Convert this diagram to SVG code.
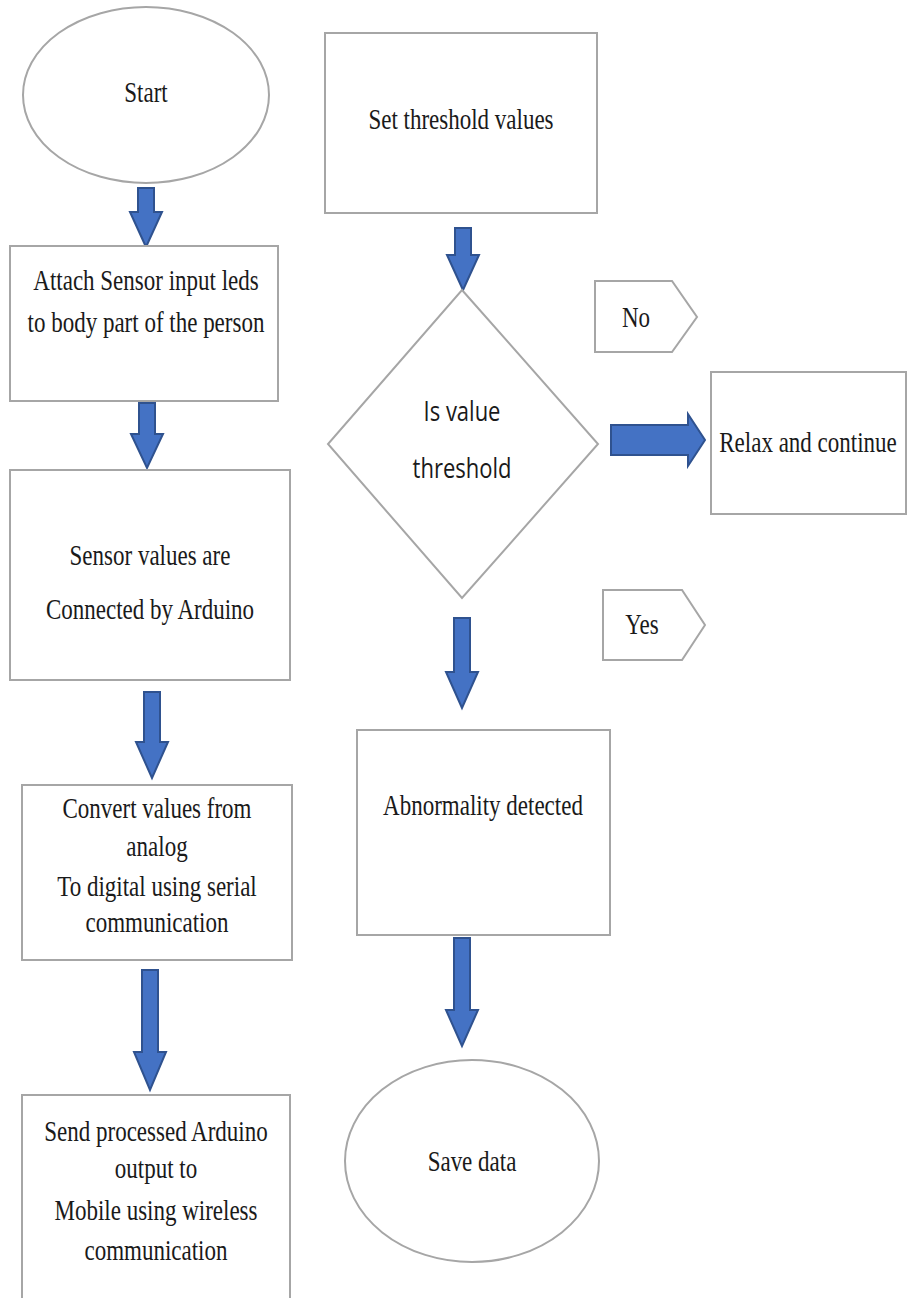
<svg xmlns="http://www.w3.org/2000/svg" width="911" height="1298" viewBox="0 0 911 1298">
<style>
.box{fill:#fff;stroke:#a6a6a6;stroke-width:2}
.t{font-family:"Liberation Serif","Times New Roman",serif;font-size:23px;fill:#1a1a1a;text-anchor:middle}
.s{font-family:"Open Sans","Liberation Sans",sans-serif;font-size:22px;fill:#1a1a1a;text-anchor:middle}
.arr{fill:#4472c4;stroke:#2f528f;stroke-width:2;stroke-linejoin:miter}
</style>
<rect width="911" height="1298" fill="#fff"/>
<g id="connectors">
<path class="arr" d="M138,188 H154 V212 H162 L146,247 L130,212 H138 Z"/>
<path class="arr" d="M139,403 H155 V434 H163 L147,468 L131,434 H139 Z"/>
<path class="arr" d="M144,692 H160 V742 H168 L152,778 L136,742 H144 Z"/>
<path class="arr" d="M142,970 H158 V1052 H166 L150,1090 L134,1052 H142 Z"/>
<path class="arr" d="M455,228 H471 V255 H479 L463,290 L447,255 H455 Z"/>
<path class="arr" d="M454,618 H470 V672 H478 L462,708 L446,672 H454 Z"/>
<path class="arr" d="M454,938 H470 V1010 H478 L462,1046 L446,1010 H454 Z"/>
<path class="arr" d="M611,425 H688 V414 L705,440 L688,466 V455 H611 Z"/>
</g>
<g id="start"><ellipse class="box" cx="146" cy="95" rx="123" ry="88"/><text class="t" transform="translate(146,102) scale(1,1.3)">Start</text></g>
<g id="attach"><rect class="box" x="10" y="246" width="268" height="155"/>
<text class="t" transform="translate(146,290) scale(1,1.3)">Attach Sensor input leds</text><text class="t" transform="translate(146,332) scale(1,1.3)">to body part of the person</text></g>
<g id="sensor"><rect class="box" x="10" y="470" width="280" height="210"/>
<text class="t" transform="translate(150,565) scale(1,1.3)">Sensor values are</text><text class="t" transform="translate(150,619) scale(1,1.3)">Connected by Arduino</text></g>
<g id="convert"><rect class="box" x="22" y="785" width="270" height="175"/>
<text class="t" transform="translate(157,818) scale(1,1.3)">Convert values from</text><text class="t" transform="translate(157,856) scale(1,1.3)">analog</text><text class="t" transform="translate(157,896) scale(1,1.3)">To digital using serial</text><text class="t" transform="translate(157,932) scale(1,1.3)">communication</text></g>
<g id="send"><rect class="box" x="22" y="1095" width="268" height="210"/>
<text class="t" transform="translate(156,1141) scale(1,1.3)">Send processed Arduino</text><text class="t" transform="translate(156,1178) scale(1,1.3)">output to</text><text class="t" transform="translate(156,1220) scale(1,1.3)">Mobile using wireless</text><text class="t" transform="translate(156,1260) scale(1,1.3)">communication</text></g>
<g id="threshold"><rect class="box" x="325" y="33" width="272" height="180"/><text class="t" transform="translate(461,129) scale(1,1.3)">Set threshold values</text></g>
<g id="decision"><path class="box" d="M462,290 L598,444 L462,598 L328,444 Z"/>
<text class="s" transform="translate(462,421) scale(1,1.25)">Is value</text><text class="s" transform="translate(462,478) scale(1,1.25)">threshold</text></g>
<g id="no"><path class="box" d="M595,281 H672 L697,317 L672,352 H595 Z"/><text class="t" transform="translate(636,327) scale(1,1.3)">No</text></g>
<g id="relax"><rect class="box" x="711" y="372" width="195" height="142"/><text class="t" transform="translate(808,452) scale(1,1.3)">Relax and continue</text></g>
<g id="yes"><path class="box" d="M603,590 H682 L705,625 L682,660 H603 Z"/><text class="t" transform="translate(642,634) scale(1,1.3)">Yes</text></g>
<g id="abnormal"><rect class="box" x="357" y="730" width="253" height="205"/><text class="t" transform="translate(483,815) scale(1,1.3)">Abnormality detected</text></g>
<g id="save"><ellipse class="box" cx="472" cy="1161" rx="127" ry="101"/><text class="t" transform="translate(472,1171) scale(1,1.3)">Save data</text></g>
</svg>
